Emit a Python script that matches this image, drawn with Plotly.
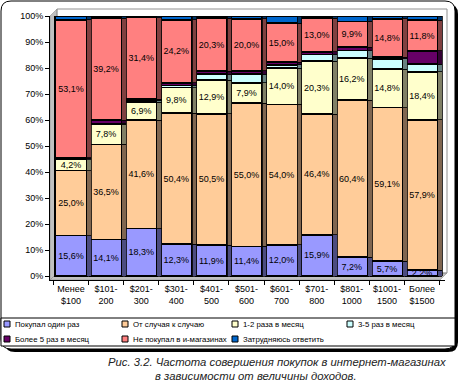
import plotly.graph_objects as go

categories = ["Менее<br>$100", "$101-<br>200", "$201-<br>300", "$301-<br>400", "$401-<br>500",
              "$501-<br>600", "$601-<br>700", "$701-<br>800", "$801-<br>1000", "$1001-<br>1500",
              "Более<br>$1500"]

series_names = ["Покупал один раз", "От случая к случаю", "1-2 раза в месяц", "3-5 раз в месяц",
                "Более 5 раз в месяц", "Не покупал в и-магазинах", "Затрудняюсь ответить"]

once = [15.6, 14.1, 18.3, 12.3, 11.9, 11.4, 12.0, 15.9, 7.2, 5.7, 2.2]
occasional = [25.0, 36.5, 41.6, 50.4, 50.5, 55.0, 54.0, 46.4, 60.4, 59.1, 57.9]
monthly_1_2 = [4.2, 7.8, 6.9, 9.8, 12.9, 7.9, 14.0, 20.3, 16.2, 14.8, 18.4]
monthly_3_5 = [0.4, 0.3, 0.8, 0.8, 2.4, 3.4, 1.2, 2.6, 2.9, 4.0, 2.9]
more_5 = [0.3, 1.2, 0.4, 1.0, 1.1, 1.2, 1.0, 1.0, 1.3, 0.6, 5.2]
never = [53.1, 39.2, 31.4, 24.2, 20.3, 20.0, 15.0, 13.0, 9.9, 14.8, 11.8]
unsure = [1.4, 0.9, 0.6, 1.5, 0.9, 1.1, 2.8, 0.8, 2.1, 1.0, 1.6]

y_ticks = [0, 10, 20, 30, 40, 50, 60, 70, 80, 90, 100]
y_tick_labels = [f"{v}%" for v in y_ticks]

all_series = [once, occasional, monthly_1_2, monthly_3_5, more_5, never, unsure]
labelled = [True, True, True, False, False, True, False]
colors = ["#9999FF", "#FFCC99", "#FFFFCC", "#CCFFFF", "#660066", "#FF8080", "#0066CC"]
side_colors = ["#4C4C80", "#806650", "#808066", "#668080", "#330033", "#804040", "#003366"]

FONT = "Liberation Sans, Arial, sans-serif"
W, H = 460, 383
L, R, T, B = 50, 15, 16, 103
PW, PH = W - L - R, H - T - B


def fx(px):
    return (px - L) / PW


def fy(py):
    return (H - B - py) / PH


def fmt(v):
    return f"{v:.1f}".replace(".", ",") + "%"


fig = go.Figure()
for name, vals, lab, col in zip(series_names, all_series, labelled, colors):
    fig.add_trace(go.Bar(
        name=name, x=categories, y=vals,
        marker=dict(color=col, line=dict(color="black", width=1.8)),
        text=[fmt(v) for v in vals] if lab else None,
        textposition="inside" if lab else "none",
        insidetextanchor="middle", constraintext="none",
        textfont=dict(size=9, color="black", family=FONT),
        width=0.9, hoverinfo="skip", showlegend=False,
    ))
# darker side faces (pseudo-3D)
for name, vals, col in zip(series_names, all_series, side_colors):
    fig.add_trace(go.Bar(
        name=name, x=categories, y=vals, xaxis="x2", showlegend=False,
        marker=dict(color=col, line=dict(color="black", width=0.8)),
        width=0.13, offset=0.45, hoverinfo="skip",
    ))


def rounded_path(x0, y0, x1, y1, r):
    pts = [
        f"M {fx(x0 + r)},{fy(y0)}",
        f"L {fx(x1 - r)},{fy(y0)}",
        f"Q {fx(x1)},{fy(y0)} {fx(x1)},{fy(y0 + r)}",
        f"L {fx(x1)},{fy(y1 - r)}",
        f"Q {fx(x1)},{fy(y1)} {fx(x1 - r)},{fy(y1)}",
        f"L {fx(x0 + r)},{fy(y1)}",
        f"Q {fx(x0)},{fy(y1)} {fx(x0)},{fy(y1 - r)}",
        f"L {fx(x0)},{fy(y0 + r)}",
        f"Q {fx(x0)},{fy(y0)} {fx(x0 + r)},{fy(y0)}",
        "Z",
    ]
    return " ".join(pts)


def poly(points):
    return "M " + " L ".join(f"{fx(a)},{fy(b)}" for a, b in points) + " Z"


shapes = [
    dict(type="path", xref="paper", yref="paper", layer="below",
         path=rounded_path(5, 4, 458, 352, 10), fillcolor="black", line=dict(width=0)),
    dict(type="path", xref="paper", yref="paper", layer="below",
         path=rounded_path(1, 1, 455, 349, 10), fillcolor="white",
         line=dict(color="black", width=1)),
    dict(type="path", xref="paper", yref="paper", layer="below",
         path=poly([(50, 280), (50, 16), (57, 9), (57, 273)]), fillcolor="#C0C0C0",
         line=dict(color="#808080", width=0.5)),
    dict(type="path", xref="paper", yref="paper", layer="below",
         path=poly([(50, 280), (440, 280), (447, 273), (57, 273)]), fillcolor="#C0C0C0",
         line=dict(color="#808080", width=0.5)),
    dict(type="path", xref="paper", yref="paper", layer="below",
         path=poly([(57, 273), (57, 9), (447, 9), (447, 273)]), fillcolor="rgba(0,0,0,0)",
         line=dict(color="#909090", width=1)),
    dict(type="rect", xref="paper", yref="paper", layer="below",
         x0=fx(1), x1=fx(455), y0=fy(318), y1=fy(346), line=dict(color="black", width=1),
         fillcolor="white"),
]

annotations = [
    dict(text="<i>Рис. 3.2. Частота совершения покупок в интернет-магазинах</i>",
         x=fx(277), y=fy(362), xref="paper", yref="paper", showarrow=False,
         xanchor="center", yanchor="middle",
         font=dict(family=FONT, size=11.3, color="#222222")),
    dict(text="<i>в зависимости от величины доходов.</i>",
         x=fx(256), y=fy(376), xref="paper", yref="paper", showarrow=False,
         xanchor="center", yanchor="middle",
         font=dict(family=FONT, size=11.3, color="#222222")),
]

legend_cols = [4, 122, 232, 347]
legend_rows = [324, 339]
for i, (name, col) in enumerate(zip(series_names, colors)):
    cx = legend_cols[i % 4]
    cy = legend_rows[i // 4]
    shapes.append(dict(type="rect", xref="paper", yref="paper", layer="above",
                       x0=fx(cx), x1=fx(cx + 6), y0=fy(cy + 3), y1=fy(cy - 3),
                       fillcolor=col, line=dict(color="black", width=1)))
    annotations.append(dict(text=name, x=fx(cx + 9), y=fy(cy), xref="paper", yref="paper",
                            showarrow=False, xanchor="left", yanchor="middle",
                            font=dict(family=FONT, size=7.8, color="black")))

xrange = [-0.598, 10.655]
fig.update_layout(
    width=W, height=H, autosize=False,
    margin=dict(l=L, r=R, t=T, b=B, pad=0, autoexpand=False),
    paper_bgcolor="white", plot_bgcolor="rgba(0,0,0,0)",
    barmode="stack", bargap=0.1,
    font=dict(family=FONT, size=9, color="black"),
    xaxis=dict(type="category", range=xrange, showline=True, linecolor="black", linewidth=1,
               ticks="outside", ticklen=4, tickcolor="black", tickson="boundaries",
               tickangle=0, showgrid=False, zeroline=False,
               tickfont=dict(size=9, family=FONT)),
    xaxis2=dict(type="category", range=xrange, overlaying="x", visible=False),
    yaxis=dict(range=[-1.5, 100], tickmode="array", tickvals=y_ticks, ticktext=y_tick_labels,
               showline=True, linecolor="black", linewidth=1, ticks="outside", ticklen=4,
               tickcolor="black", showgrid=False, zeroline=False,
               tickfont=dict(size=9, family=FONT)),
    showlegend=False,
    shapes=shapes, annotations=annotations,
)

fig.write_html("out.html", config={"displayModeBar": False},
               post_script="document.body.style.margin='0';document.body.style.padding='0';")
